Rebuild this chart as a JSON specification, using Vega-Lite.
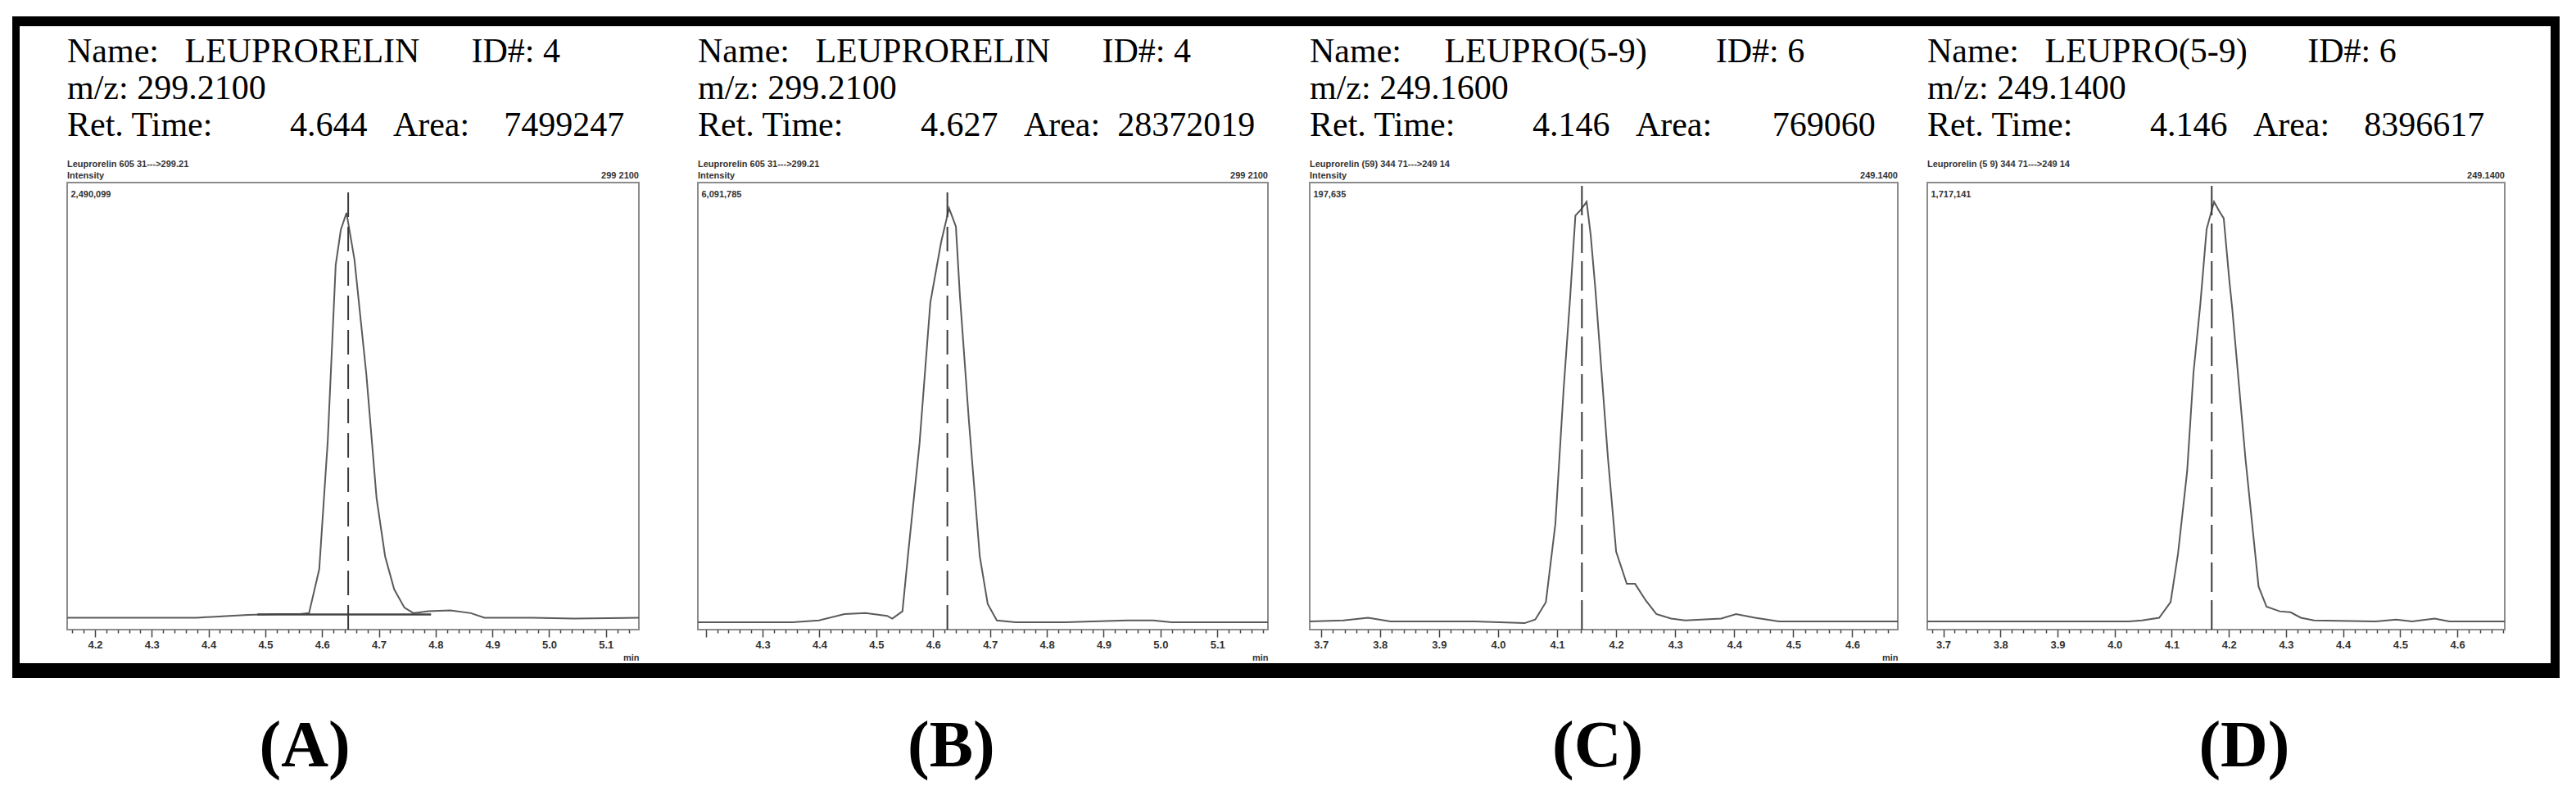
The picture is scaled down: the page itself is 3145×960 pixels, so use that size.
{
  "$schema": "https://vega.github.io/schema/vega-lite/v6.json",
  "background": "white",
  "padding": {"left": 15, "top": 20, "right": 5, "bottom": 0},
  "datasets": {
    "traces": [
      {"p":"A","t":4.151,"i":0},{"p":"A","t":4.249,"i":0},{"p":"A","t":4.379,"i":0},{"p":"A","t":4.437,"i":10500},{"p":"A","t":4.470,"i":15700},{"p":"A","t":4.523,"i":21000},{"p":"A","t":4.561,"i":21000},{"p":"A","t":4.577,"i":26200},{"p":"A","t":4.595,"i":277400},{"p":"A","t":4.610,"i":1012000},{"p":"A","t":4.624,"i":2019000},{"p":"A","t":4.633,"i":2219300},{"p":"A","t":4.643,"i":2317000},{"p":"A","t":4.657,"i":2049900},{"p":"A","t":4.678,"i":1392200},{"p":"A","t":4.696,"i":683300},{"p":"A","t":4.711,"i":351200},{"p":"A","t":4.727,"i":162500},{"p":"A","t":4.745,"i":57700},{"p":"A","t":4.761,"i":26200},{"p":"A","t":4.787,"i":36700},{"p":"A","t":4.826,"i":41900},{"p":"A","t":4.862,"i":26200},{"p":"A","t":4.886,"i":0},{"p":"A","t":4.971,"i":0},{"p":"A","t":5.043,"i":-5200},{"p":"A","t":5.158,"i":0},
      {"p":"B","t":4.186,"i":0},{"p":"B","t":4.353,"i":0},{"p":"B","t":4.399,"i":25400},{"p":"B","t":4.444,"i":114200},{"p":"B","t":4.481,"i":126900},{"p":"B","t":4.519,"i":88800},{"p":"B","t":4.528,"i":50800},{"p":"B","t":4.546,"i":152300},{"p":"B","t":4.556,"i":951800},{"p":"B","t":4.576,"i":2474700},{"p":"B","t":4.595,"i":4429200},{"p":"B","t":4.614,"i":5266800},{"p":"B","t":4.628,"i":5736300},{"p":"B","t":4.640,"i":5482500},{"p":"B","t":4.647,"i":4530700},{"p":"B","t":4.663,"i":2779300},{"p":"B","t":4.682,"i":913800},{"p":"B","t":4.696,"i":253800},{"p":"B","t":4.712,"i":25400},{"p":"B","t":4.745,"i":0},{"p":"B","t":4.832,"i":0},{"p":"B","t":4.941,"i":25400},{"p":"B","t":4.987,"i":25400},{"p":"B","t":5.019,"i":0},{"p":"B","t":5.189,"i":0},
      {"p":"C","t":3.681,"i":0},{"p":"C","t":3.738,"i":410},{"p":"C","t":3.780,"i":1650},{"p":"C","t":3.818,"i":0},{"p":"C","t":3.960,"i":0},{"p":"C","t":4.045,"i":-800},{"p":"C","t":4.063,"i":830},{"p":"C","t":4.081,"i":8660},{"p":"C","t":4.097,"i":43700},{"p":"C","t":4.111,"i":104400},{"p":"C","t":4.122,"i":145600},{"p":"C","t":4.131,"i":182800},{"p":"C","t":4.140,"i":185300},{"p":"C","t":4.150,"i":189000},{"p":"C","t":4.157,"i":173700},{"p":"C","t":4.165,"i":149000},{"p":"C","t":4.186,"i":73900},{"p":"C","t":4.200,"i":31400},{"p":"C","t":4.218,"i":16900},{"p":"C","t":4.232,"i":16900},{"p":"C","t":4.250,"i":9500},{"p":"C","t":4.268,"i":3300},{"p":"C","t":4.293,"i":1240},{"p":"C","t":4.317,"i":410},{"p":"C","t":4.378,"i":1240},{"p":"C","t":4.403,"i":3300},{"p":"C","t":4.435,"i":1650},{"p":"C","t":4.476,"i":0},{"p":"C","t":4.677,"i":0},
      {"p":"D","t":3.672,"i":0},{"p":"D","t":4.025,"i":0},{"p":"D","t":4.048,"i":3600},{"p":"D","t":4.078,"i":14300},{"p":"D","t":4.098,"i":75300},{"p":"D","t":4.111,"i":265300},{"p":"D","t":4.127,"i":587900},{"p":"D","t":4.138,"i":971500},{"p":"D","t":4.150,"i":1240400},{"p":"D","t":4.161,"i":1534300},{"p":"D","t":4.174,"i":1641900},{"p":"D","t":4.183,"i":1606000},{"p":"D","t":4.191,"i":1577400},{"p":"D","t":4.201,"i":1330000},{"p":"D","t":4.206,"i":1222000},{"p":"D","t":4.229,"i":638100},{"p":"D","t":4.252,"i":136200},{"p":"D","t":4.266,"i":57400},{"p":"D","t":4.289,"i":39400},{"p":"D","t":4.308,"i":35800},{"p":"D","t":4.326,"i":14300},{"p":"D","t":4.349,"i":3600},{"p":"D","t":4.457,"i":0},{"p":"D","t":4.493,"i":7200},{"p":"D","t":4.521,"i":0},{"p":"D","t":4.560,"i":10800},{"p":"D","t":4.586,"i":0},{"p":"D","t":4.683,"i":0}
    ],
    "rt": [
      {"p":"A","t":4.646,"i":-68150,"i2":2490099},
      {"p":"B","t":4.625,"i":-101530,"i2":6091785},
      {"p":"C","t":4.142,"i":-3713,"i2":197635},
      {"p":"D","t":4.170,"i":-32263,"i2":1717141}
    ],
    "chan": [
      {"p":"A","t":5.158,"i":2490099,"chan":"299 2100"},
      {"p":"B","t":5.189,"i":6091785,"chan":"299 2100"},
      {"p":"C","t":4.677,"i":197635,"chan":"249.1400"},
      {"p":"D","t":4.683,"i":1717141,"chan":"249.1400"}
    ],
    "integ": [
      {"p":"A","t":4.486,"t2":4.792,"i":18000}
    ]
  },
  "columns": 3,
  "align": "each",
  "bounds": "flush",
  "spacing": 0,
  "concat": [
    {"width": 9, "height": 12, "view": {"fill": "black", "stroke": null}, "data": {"values": []}, "mark": "rule", "encoding": {}},
    {"width": 3090, "height": 12, "view": {"fill": "black", "stroke": null}, "data": {"values": []}, "mark": "rule", "encoding": {}},
    {"width": 11, "height": 12, "view": {"fill": "black", "stroke": null}, "data": {"values": []}, "mark": "rule", "encoding": {}},
    {"width": 9, "height": 778, "view": {"fill": "black", "stroke": null}, "data": {"values": []}, "mark": "rule", "encoding": {}},
    {
      "spacing": 0,
      "vconcat": [
        {"width": 3090, "height": 9, "data": {"values": []}, "mark": "rule", "encoding": {}},
        {
          "spacing": 0,
          "bounds": "flush",
          "hconcat": [
            {"width": 58, "height": 1, "data": {"values": []}, "mark": "rule", "encoding": {}},
            {
              "width": 698, "height": 546,
              "view": {"stroke": "#8c8c8c", "strokeWidth": 2},
              "title": {
                "text": ["Name:\u00a0\u00a0\u00a0LEUPRORELIN\u00a0\u00a0\u00a0\u00a0\u00a0\u00a0ID#: 4", "m/z: 299.2100", "Ret. Time:\u00a0\u00a0\u00a0\u00a0\u00a0\u00a0\u00a0\u00a0\u00a04.644\u00a0\u00a0\u00a0Area:\u00a0\u00a0\u00a0\u00a07499247"],
                "subtitle": ["Leuprorelin 605 31--->299.21", "Intensity"]
              },
              "encoding": {
                "x": {"field": "t", "type": "quantitative", "scale": {"domain": [4.151, 5.158], "nice": false, "zero": false},
                  "axis": {"title": "min", "values": [4.16,4.18,4.2,4.22,4.24,4.26,4.28,4.3,4.32,4.34,4.36,4.38,4.4,4.42,4.44,4.46,4.48,4.5,4.52,4.54,4.56,4.58,4.6,4.62,4.64,4.66,4.68,4.7,4.72,4.74,4.76,4.78,4.8,4.82,4.84,4.86,4.88,4.9,4.92,4.94,4.96,4.98,5,5.02,5.04,5.06,5.08,5.1,5.12,5.14],
                    "labelExpr": "abs(datum.value*10 - round(datum.value*10)) < 0.001 ? format(datum.value, '.1f') : ''",
                    "tickSize": {"condition": {"test": "abs(datum.value*10 - round(datum.value*10)) < 0.001", "value": 9}, "value": 4}}},
                "y": {"field": "i", "type": "quantitative", "scale": {"domain": [-68150, 2490099], "nice": false, "zero": false},
                  "axis": {"title": null, "values": [2490099], "format": ",d"}}
              },
              "layer": [
                {"data": {"name": "traces"}, "transform": [{"filter": "datum.p === 'A'"}], "mark": {"type": "line", "color": "#5a5a5a", "strokeWidth": 2}},
                {"data": {"name": "integ"}, "transform": [{"filter": "datum.p === 'A'"}], "mark": {"type": "rule", "color": "#444444", "strokeWidth": 2.5}, "encoding": {"x2": {"field": "t2"}}},
                {"data": {"name": "rt"}, "transform": [{"filter": "datum.p === 'A'"}], "mark": {"type": "rule", "color": "#3a3a3a", "strokeWidth": 2, "strokeDash": [30, 12]}, "encoding": {"y2": {"field": "i2"}}},
                {"data": {"name": "chan"}, "transform": [{"filter": "datum.p === 'A'"}], "mark": {"type": "text", "align": "right", "baseline": "bottom", "dy": -3, "font": "Liberation Sans Narrow, Liberation Sans, sans-serif", "fontSize": 11, "fontWeight": "bold", "color": "#333333"}, "encoding": {"text": {"field": "chan"}}}
              ]
            },
            {"width": 72, "height": 1, "data": {"values": []}, "mark": "rule", "encoding": {}},
            {
              "width": 696, "height": 546,
              "view": {"stroke": "#8c8c8c", "strokeWidth": 2},
              "title": {
                "text": ["Name:\u00a0\u00a0\u00a0LEUPRORELIN\u00a0\u00a0\u00a0\u00a0\u00a0\u00a0ID#: 4", "m/z: 299.2100", "Ret. Time:\u00a0\u00a0\u00a0\u00a0\u00a0\u00a0\u00a0\u00a0\u00a04.627\u00a0\u00a0\u00a0Area:\u00a0\u00a028372019"],
                "subtitle": ["Leuprorelin 605 31--->299.21", "Intensity"]
              },
              "encoding": {
                "x": {"field": "t", "type": "quantitative", "scale": {"domain": [4.186, 5.189], "nice": false, "zero": false},
                  "axis": {"title": "min", "values": [4.2,4.22,4.24,4.26,4.28,4.3,4.32,4.34,4.36,4.38,4.4,4.42,4.44,4.46,4.48,4.5,4.52,4.54,4.56,4.58,4.6,4.62,4.64,4.66,4.68,4.7,4.72,4.74,4.76,4.78,4.8,4.82,4.84,4.86,4.88,4.9,4.92,4.94,4.96,4.98,5,5.02,5.04,5.06,5.08,5.1,5.12,5.14,5.16,5.18],
                    "labelExpr": "datum.value > 4.25 && abs(datum.value*10 - round(datum.value*10)) < 0.001 ? format(datum.value, '.1f') : ''",
                    "tickSize": {"condition": {"test": "abs(datum.value*10 - round(datum.value*10)) < 0.001", "value": 9}, "value": 4}}},
                "y": {"field": "i", "type": "quantitative", "scale": {"domain": [-101530, 6091785], "nice": false, "zero": false},
                  "axis": {"title": null, "values": [6091785], "format": ",d"}}
              },
              "layer": [
                {"data": {"name": "traces"}, "transform": [{"filter": "datum.p === 'B'"}], "mark": {"type": "line", "color": "#5a5a5a", "strokeWidth": 2}},
                {"data": {"name": "rt"}, "transform": [{"filter": "datum.p === 'B'"}], "mark": {"type": "rule", "color": "#3a3a3a", "strokeWidth": 2, "strokeDash": [30, 12]}, "encoding": {"y2": {"field": "i2"}}},
                {"data": {"name": "chan"}, "transform": [{"filter": "datum.p === 'B'"}], "mark": {"type": "text", "align": "right", "baseline": "bottom", "dy": -3, "font": "Liberation Sans Narrow, Liberation Sans, sans-serif", "fontSize": 11, "fontWeight": "bold", "color": "#333333"}, "encoding": {"text": {"field": "chan"}}}
              ]
            },
            {"width": 51, "height": 1, "data": {"values": []}, "mark": "rule", "encoding": {}},
            {
              "width": 718, "height": 546,
              "view": {"stroke": "#8c8c8c", "strokeWidth": 2},
              "title": {
                "text": ["Name:\u00a0\u00a0\u00a0\u00a0\u00a0LEUPRO(5-9)\u00a0\u00a0\u00a0\u00a0\u00a0\u00a0\u00a0\u00a0ID#: 6", "m/z: 249.1600", "Ret. Time:\u00a0\u00a0\u00a0\u00a0\u00a0\u00a0\u00a0\u00a0\u00a04.146\u00a0\u00a0\u00a0Area:\u00a0\u00a0\u00a0\u00a0\u00a0\u00a0\u00a0769060"],
                "subtitle": ["Leuprorelin (59) 344 71--->249 14", "Intensity"]
              },
              "encoding": {
                "x": {"field": "t", "type": "quantitative", "scale": {"domain": [3.681, 4.677], "nice": false, "zero": false},
                  "axis": {"title": "min", "values": [3.7,3.72,3.74,3.76,3.78,3.8,3.82,3.84,3.86,3.88,3.9,3.92,3.94,3.96,3.98,4,4.02,4.04,4.06,4.08,4.1,4.12,4.14,4.16,4.18,4.2,4.22,4.24,4.26,4.28,4.3,4.32,4.34,4.36,4.38,4.4,4.42,4.44,4.46,4.48,4.5,4.52,4.54,4.56,4.58,4.6,4.62,4.64,4.66],
                    "labelExpr": "abs(datum.value*10 - round(datum.value*10)) < 0.001 ? format(datum.value, '.1f') : ''",
                    "tickSize": {"condition": {"test": "abs(datum.value*10 - round(datum.value*10)) < 0.001", "value": 9}, "value": 4}}},
                "y": {"field": "i", "type": "quantitative", "scale": {"domain": [-3713, 197635], "nice": false, "zero": false},
                  "axis": {"title": null, "values": [197635], "format": ",d"}}
              },
              "layer": [
                {"data": {"name": "traces"}, "transform": [{"filter": "datum.p === 'C'"}], "mark": {"type": "line", "color": "#5a5a5a", "strokeWidth": 2}},
                {"data": {"name": "rt"}, "transform": [{"filter": "datum.p === 'C'"}], "mark": {"type": "rule", "color": "#3a3a3a", "strokeWidth": 2, "strokeDash": [36, 10]}, "encoding": {"y2": {"field": "i2"}}},
                {"data": {"name": "chan"}, "transform": [{"filter": "datum.p === 'C'"}], "mark": {"type": "text", "align": "right", "baseline": "bottom", "dy": -3, "font": "Liberation Sans Narrow, Liberation Sans, sans-serif", "fontSize": 11, "fontWeight": "bold", "color": "#333333"}, "encoding": {"text": {"field": "chan"}}}
              ]
            },
            {"width": 36, "height": 1, "data": {"values": []}, "mark": "rule", "encoding": {}},
            {
              "width": 705, "height": 546,
              "view": {"stroke": "#8c8c8c", "strokeWidth": 2},
              "title": {
                "text": ["Name:\u00a0\u00a0\u00a0LEUPRO(5-9)\u00a0\u00a0\u00a0\u00a0\u00a0\u00a0\u00a0ID#: 6", "m/z: 249.1400", "Ret. Time:\u00a0\u00a0\u00a0\u00a0\u00a0\u00a0\u00a0\u00a0\u00a04.146\u00a0\u00a0\u00a0Area:\u00a0\u00a0\u00a0\u00a08396617"],
                "subtitle": ["Leuprorelin (5 9) 344 71--->249 14", ""]
              },
              "encoding": {
                "x": {"field": "t", "type": "quantitative", "scale": {"domain": [3.672, 4.683], "nice": false, "zero": false},
                  "axis": {"title": null, "values": [3.68,3.7,3.72,3.74,3.76,3.78,3.8,3.82,3.84,3.86,3.88,3.9,3.92,3.94,3.96,3.98,4,4.02,4.04,4.06,4.08,4.1,4.12,4.14,4.16,4.18,4.2,4.22,4.24,4.26,4.28,4.3,4.32,4.34,4.36,4.38,4.4,4.42,4.44,4.46,4.48,4.5,4.52,4.54,4.56,4.58,4.6,4.62,4.64,4.66,4.68],
                    "labelExpr": "abs(datum.value*10 - round(datum.value*10)) < 0.001 ? format(datum.value, '.1f') : ''",
                    "tickSize": {"condition": {"test": "abs(datum.value*10 - round(datum.value*10)) < 0.001", "value": 9}, "value": 4}}},
                "y": {"field": "i", "type": "quantitative", "scale": {"domain": [-32263, 1717141], "nice": false, "zero": false},
                  "axis": {"title": null, "values": [1717141], "format": ",d"}}
              },
              "layer": [
                {"data": {"name": "traces"}, "transform": [{"filter": "datum.p === 'D'"}], "mark": {"type": "line", "color": "#5a5a5a", "strokeWidth": 2}},
                {"data": {"name": "rt"}, "transform": [{"filter": "datum.p === 'D'"}], "mark": {"type": "rule", "color": "#3a3a3a", "strokeWidth": 2, "strokeDash": [36, 10]}, "encoding": {"y2": {"field": "i2"}}},
                {"data": {"name": "chan"}, "transform": [{"filter": "datum.p === 'D'"}], "mark": {"type": "text", "align": "right", "baseline": "bottom", "dy": -3, "font": "Liberation Sans Narrow, Liberation Sans, sans-serif", "fontSize": 11, "fontWeight": "bold", "color": "#333333"}, "encoding": {"text": {"field": "chan"}}}
              ]
            }
          ]
        }
      ]
    },
    {"width": 11, "height": 778, "view": {"fill": "black", "stroke": null}, "data": {"values": []}, "mark": "rule", "encoding": {}},
    {"width": 9, "height": 18, "view": {"fill": "black", "stroke": null}, "data": {"values": []}, "mark": "rule", "encoding": {}},
    {"width": 3090, "height": 18, "view": {"fill": "black", "stroke": null}, "data": {"values": []}, "mark": "rule", "encoding": {}},
    {"width": 11, "height": 18, "view": {"fill": "black", "stroke": null}, "data": {"values": []}, "mark": "rule", "encoding": {}},
    {"width": 9, "height": 132, "data": {"values": []}, "mark": "rule", "encoding": {}},
    {
      "width": 3090, "height": 132,
      "data": {"values": [{"lab": "(A)"}, {"lab": "(B)"}, {"lab": "(C)"}, {"lab": "(D)"}]},
      "mark": {"type": "text", "font": "Liberation Serif", "fontSize": 80, "fontWeight": "bold", "color": "black", "baseline": "middle", "dy": 18},
      "encoding": {
        "x": {"field": "lab", "type": "nominal", "scale": {"type": "point", "padding": 0.4575, "align": 0.482}, "axis": null},
        "text": {"field": "lab"}
      }
    }
  ],
  "config": {
    "view": {"stroke": null},
    "title": {
      "anchor": "start", "frame": "group", "font": "Liberation Serif", "fontSize": 42, "fontWeight": "normal", "color": "black",
      "lineHeight": 45, "offset": -12,
      "subtitleFont": "Liberation Sans Narrow, Liberation Sans, sans-serif", "subtitleFontSize": 11, "subtitleFontWeight": "bold",
      "subtitleColor": "#333333", "subtitleLineHeight": 14, "subtitlePadding": 20
    },
    "axisX": {
      "domain": false, "grid": false, "tickColor": "#444444", "tickWidth": 1.5,
      "labelFont": "Liberation Sans Narrow, Liberation Sans, sans-serif", "labelFontSize": 13, "labelFontWeight": "bold", "labelColor": "#333333",
      "labelPadding": 3, "labelOverlap": false, "labelFlush": false, "labelBound": false,
      "titleFont": "Liberation Sans Narrow, Liberation Sans, sans-serif", "titleFontSize": 11, "titleFontWeight": "bold", "titleColor": "#333333",
      "titleAnchor": "end", "titlePadding": 3, "minExtent": 0
    },
    "axisY": {
      "domain": false, "grid": false, "ticks": false, "tickSize": 0,
      "labelAlign": "left", "labelBaseline": "top", "labelPadding": -4, "labelOffset": 8,
      "labelFont": "Liberation Sans Narrow, Liberation Sans, sans-serif", "labelFontSize": 11, "labelFontWeight": "bold", "labelColor": "#333333",
      "labelOverlap": false, "minExtent": 0
    }
  }
}
